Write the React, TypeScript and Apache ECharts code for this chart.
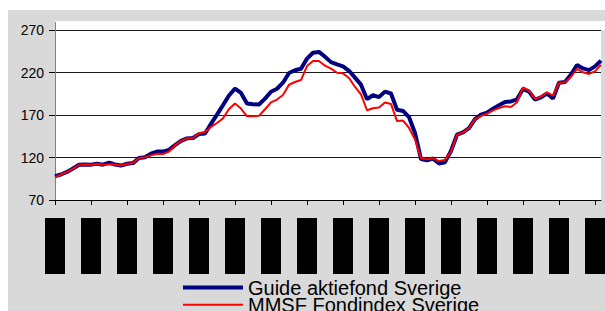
import React, { useEffect, useRef } from "react";
import * as echarts from "echarts";

// Bi-monthly observations starting Jan 1993
const guideValues = [
  98, 100, 103, 107, 111.5, 111.8, 111.6, 112.7, 111.5, 114, 111.8, 110.5,
  112.6, 113.4, 119.4, 120.3, 124.5, 127, 127, 129, 134.5, 139.5, 142.5, 143,
  147.5, 148.3, 159.5, 170.5, 181.6, 193, 201, 196, 183.5, 182.6, 182.3, 189.3,
  197.4, 200.9, 208, 219.4, 222.6, 224.4, 236.3, 243.2, 244.2, 238.5, 232.2, 229.5,
  227.2, 222, 214, 205.7, 188.6, 193.2, 191.1, 197.5, 195.3, 176.2, 174.8, 167.6,
  148.8, 118.3, 116.8, 118.8, 112.9, 114.5, 127.7, 146.8, 149.5, 154.5, 165.2, 170.5,
  172.8, 177.5, 181.5, 185.2, 185.9, 188.4, 200.7, 197.5, 188.2, 190.8, 195.3, 189.5,
  207.9, 208.7, 217.6, 228.8, 224.8, 222.8, 227.2, 234,
];
const mmsfValues = [
  97, 100, 103, 107, 111.5, 111.8, 111.6, 112.7, 111.5, 112, 111.8, 110.5,
  112.6, 113.4, 119.4, 120.3, 122.5, 124.5, 124, 127, 134.5, 139.5, 142.5, 143,
  148.5, 150, 156, 160.6, 166, 177, 183.5, 177.6, 168.5, 168.6, 169, 176.8,
  184.8, 188.2, 193.5, 205.6, 208.8, 211.1, 227.6, 233.6, 233.5, 228, 224.5, 219.7,
  219, 213.5, 203, 194.2, 175.6, 178, 178.9, 184.8, 183, 162.8, 163.4, 155,
  141.2, 119.3, 118, 119, 115.8, 117.2, 127, 146.8, 149.5, 154.5, 165.2, 169,
  171.5, 175.5, 178.2, 180.2, 179.5, 185, 202.4, 198.5, 189, 191.8, 196.6, 192.7,
  207.9, 208.4, 215, 224.2, 220.2, 218.3, 221.4, 229,
];
const monthNames = ["jan", "mar", "maj", "jul", "sep", "nov"];
const categories: string[] = guideValues.map((_, i) => {
  const year = 1993 + Math.floor(i / 6);
  return monthNames[i % 6] + "-" + String(year).slice(2);
});
const yTicks = { min: 70, max: 270, interval: 50 };
const seriesNames = ["Guide aktiefond Sverige", "MMSF Fondindex Sverige"];

export default function App() {
  const ref = useRef<HTMLDivElement>(null);
  useEffect(() => {
    if (!ref.current) return;
    const chart = echarts.init(ref.current, undefined, { renderer: "svg" });
    const font = "Arial, 'Liberation Sans', sans-serif";
    const legendBase = {
      orient: "vertical",
      left: 175,
      height: 40,
      padding: 0,
      itemWidth: 60,
      itemGap: 0,
      itemTextGap: 4,
      icon: "rect",
      textStyle: { fontSize: 20, color: "#000", fontFamily: font, lineHeight: 17 },
    };
    chart.setOption({
      animation: false,
      backgroundColor: "#d9d9d9",
      textStyle: { fontFamily: font },
      grid: {
        left: 47,
        top: 20,
        width: 549,
        height: 170,
        show: true,
        backgroundColor: "#ffffff",
        borderWidth: 0,
      },
      graphic: [
        {
          type: "rect",
          shape: { x: 47, y: 11, width: 560, height: 9 },
          style: { fill: "#ffffff" },
          silent: true,
        },
        {
          type: "line",
          shape: { x1: 47.5, y1: 12, x2: 47.5, y2: 20 },
          style: { stroke: "#808080", lineWidth: 1 },
          silent: true,
        },
      ],
      legend: [
        {
          ...legendBase,
          top: 267.5,
          itemHeight: 4,
          data: [{ name: seriesNames[0], itemStyle: { color: "#000080" } }],
        },
        {
          ...legendBase,
          top: 284.8,
          itemHeight: 2,
          data: [{ name: seriesNames[1], itemStyle: { color: "#ff0000" } }],
        },
      ],
      xAxis: {
        type: "category",
        data: categories,
        boundaryGap: false,
        axisLine: { show: true, lineStyle: { color: "#000", width: 1 } },
        axisTick: {
          show: true,
          length: 5,
          interval: (i: number) => i % 6 === 0,
          lineStyle: { color: "#000" },
        },
        axisLabel: {
          interval: (i: number) => i % 6 === 0,
          rotate: 90,
          margin: 18,
          fontSize: 11,
          color: "#000",
          backgroundColor: "#000",
          lineHeight: 14,
          width: 52,
          overflow: "truncate",
          padding: [0, 2, 6, 2],
        },
        splitLine: { show: false },
      },
      yAxis: {
        type: "value",
        min: yTicks.min,
        max: yTicks.max,
        interval: yTicks.interval,
        axisLine: { show: true, lineStyle: { color: "#808080", width: 1 } },
        axisTick: { show: true, length: 6, lineStyle: { color: "#000" } },
        axisLabel: { fontSize: 14, color: "#000", margin: 11, fontFamily: font },
        splitLine: { show: true, lineStyle: { color: "#1a1a1a", width: 1 } },
      },
      series: [
        {
          name: seriesNames[0],
          type: "line",
          data: guideValues,
          symbol: "none",
          lineStyle: { color: "#000080", width: 4 },
          itemStyle: { color: "#000080" },
        },
        {
          name: seriesNames[1],
          type: "line",
          data: mmsfValues,
          symbol: "none",
          lineStyle: { color: "#ff0000", width: 2 },
          itemStyle: { color: "#ff0000" },
        },
      ],
    });
    return () => chart.dispose();
  }, []);
  return (
    <div
      ref={ref}
      style={{ position: "absolute", left: 8, top: 10, width: 597, height: 301 }}
    />
  );
}
